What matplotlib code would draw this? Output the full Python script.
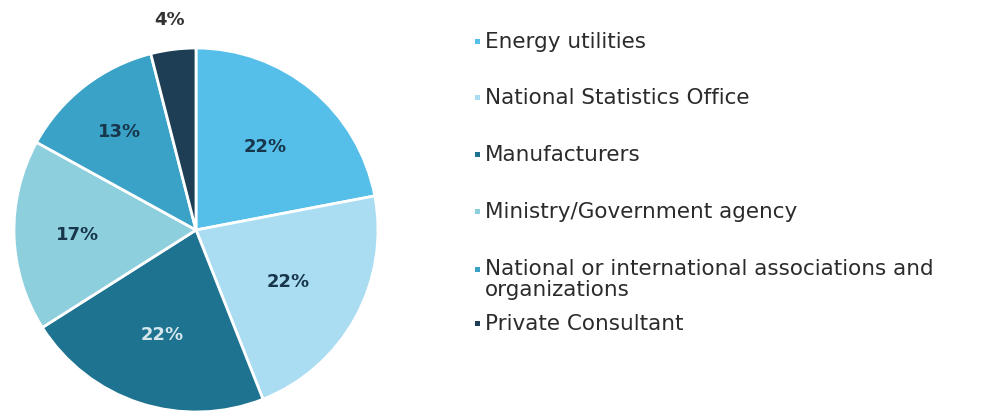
import numpy as np
import matplotlib.pyplot as plt
from matplotlib.patches import Rectangle

categories = ["Energy utilities", "National Statistics Office", "Manufacturers",
              "Ministry/Government agency",
              "National or international associations and\norganizations",
              "Private Consultant"]
shares = [22, 22, 22, 17, 13, 4]

colors = ["#55bfe9", "#aadcf2", "#1d7390", "#8ecfde", "#3ba2c7", "#1d3e54"]
pct_colors = ["#17364b", "#17364b", "#d6e6ec", "#17364b", "#17364b", "#333333"]
pct_dist = [0.60, 0.58, 0.60, 0.65, 0.69, 1.17]

plt.rcParams['font.family'] = ['DejaVu Sans']

fig = plt.figure(figsize=(9.93, 4.14), dpi=100)
ax = fig.add_axes([14 / 993, 1 / 414, 364 / 993, 364 / 414])
wedges, _ = ax.pie(shares, colors=colors, startangle=90, counterclock=False,
                   radius=1.0, wedgeprops=dict(edgecolor="white", linewidth=2.0))
ax.set_xlim(-1.0, 1.0)
ax.set_ylim(-1.0, 1.0)
ax.set_aspect("equal")

# percentage labels at each wedge's mid angle
total = sum(shares)
start = 90.0
for v, c, d in zip(shares, pct_colors, pct_dist):
    sweep = 360.0 * v / total
    mid = np.deg2rad(start - sweep / 2)
    ax.text(d * np.cos(mid), d * np.sin(mid), f"{v}%", ha="center", va="center",
            fontsize=13, fontweight="bold", color=c)
    start -= sweep

# legend on the right, one square bullet per category
leg_y = [42, 98, 155, 212, 270, 324]
for name, col, y in zip(categories, colors, leg_y):
    fy = 1 - y / 414
    fig.add_artist(Rectangle((475 / 993, fy - 2.5 / 414), 5 / 993, 5 / 414,
                             transform=fig.transFigure, color=col, lw=0))
    if "\n" in name:
        fig.text(485 / 993, fy + 11 / 414, name, ha="left", va="top",
                 fontsize=15.5, color="#2b2b2b", linespacing=1.08)
    else:
        fig.text(485 / 993, fy, name, ha="left", va="center",
                 fontsize=15.5, color="#2b2b2b")

fig.savefig("out.png", dpi=100)
